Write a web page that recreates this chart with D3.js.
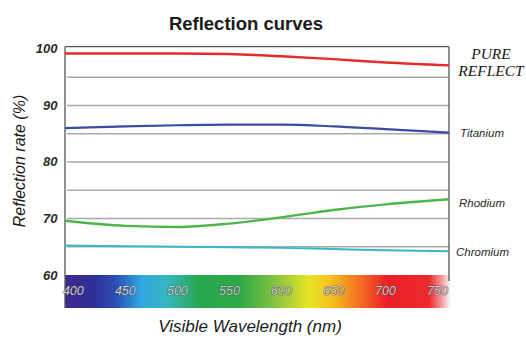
<!DOCTYPE html>
<html>
<head>
<meta charset="utf-8">
<script src="https://cdn.jsdelivr.net/npm/d3@7"></script>
<style>
  html, body { margin: 0; padding: 0; background: #fff; }
  svg { display: block; }
</style>
</head>
<body>
<svg id="chart" width="526" height="340"></svg>
<script>
// ---- data ----
const wavelengths = [392, 450, 500, 550, 600, 650, 700, 761];
const pureReflect = [99.2, 99.2, 99.2, 99.1, 98.7, 98.2, 97.6, 97.1];
const titanium    = [86.0, 86.3, 86.5, 86.6, 86.6, 86.3, 85.8, 85.2];
const rhodium     = [69.6, 68.7, 68.5, 69.1, 70.2, 71.5, 72.5, 73.4];
const chromium    = [65.2, 65.1, 65.0, 64.9, 64.8, 64.6, 64.4, 64.2];
const yTicks = [60, 70, 80, 90, 100];
const gridValues = [65, 70, 75, 80, 85, 90, 95];
const xTicks = [400, 450, 500, 550, 600, 650, 700, 750];
const spectrumWl =     [392, 420, 440, 465, 490, 520, 560, 590, 625, 645, 670, 700, 740, 752, 761];
const spectrumColors = ["#3b2a8c", "#2f2f99", "#2a4db3", "#2fa8e2", "#35b6bf", "#27a84f", "#2ea946", "#7dc142", "#e8e524", "#f6c41c", "#f37a22", "#ec1f27", "#ec2a2d", "#f49a9c", "#ffffff"];

const series = [
  { name: "Pure Reflect", values: pureReflect, color: "#e52a2a", width: 2.4 },
  { name: "Titanium", values: titanium, color: "#3b4aa3", width: 2.2 },
  { name: "Rhodium", values: rhodium, color: "#4cb648", width: 2.4 },
  { name: "Chromium", values: chromium, color: "#35b8cc", width: 2.0 }
];

// ---- layout ----
const svg = d3.select("#chart");
const x = d3.scaleLinear().domain([392, 761]).range([65, 449]);
const y = d3.scaleLinear().domain([60, 100.4]).range([275, 46.7]);
const bandTop = y(60), bandBottom = 308;
const narrow = "Liberation Sans Narrow, Arial Narrow, Liberation Sans, Arial, sans-serif";

// spectrum gradient
const defs = svg.append("defs");
const grad = defs.append("linearGradient").attr("id", "spec")
  .attr("x1", "0%").attr("x2", "100%").attr("y1", "0%").attr("y2", "0%");
spectrumWl.forEach((w, i) => {
  grad.append("stop")
    .attr("offset", ((x(w) - x(392)) / (x(761) - x(392)) * 100) + "%")
    .attr("stop-color", spectrumColors[i]);
});

// title
svg.append("text").attr("x", 246).attr("y", 30)
  .attr("text-anchor", "middle")
  .attr("font-family", "Liberation Sans, Arial, sans-serif")
  .attr("font-weight", "bold").attr("font-size", 18.5)
  .attr("fill", "#1a1a1a").text("Reflection curves");

// gridlines
svg.append("g").selectAll("line").data(gridValues).join("line")
  .attr("x1", x(392) + 2).attr("x2", x(761))
  .attr("y1", d => y(d)).attr("y2", d => y(d))
  .attr("stroke", "#a9a9a9").attr("stroke-width", 1.6);

// spectrum band
svg.append("rect").attr("x", x(392)).attr("y", bandTop)
  .attr("width", x(761) - x(392) + 2).attr("height", bandBottom - bandTop)
  .attr("fill", "url(#spec)");

// frame
svg.append("line").attr("x1", x(392)).attr("x2", x(761))
  .attr("y1", y(100.4)).attr("y2", y(100.4))
  .attr("stroke", "#555").attr("stroke-width", 1.3);
svg.append("line").attr("x1", x(392)).attr("x2", x(392))
  .attr("y1", y(100.4)).attr("y2", bandBottom)
  .attr("stroke", "#555").attr("stroke-width", 1.3);
svg.append("line").attr("x1", x(761)).attr("x2", x(761))
  .attr("y1", y(100.4)).attr("y2", bandTop + 6)
  .attr("stroke", "#555").attr("stroke-width", 1.3);

// series lines
const line = d3.line().x((d, i) => x(wavelengths[i])).y(d => y(d)).curve(d3.curveMonotoneX);
svg.append("g").selectAll("path").data(series).join("path")
  .attr("d", d => line(d.values))
  .attr("fill", "none")
  .attr("stroke", d => d.color)
  .attr("stroke-width", d => d.width);

// y tick labels
svg.append("g").selectAll("text").data(yTicks).join("text")
  .attr("x", 57.5).attr("y", d => y(d) + 4.5)
  .attr("text-anchor", "end")
  .attr("font-family", "Liberation Sans, Arial, sans-serif")
  .attr("font-style", "italic").attr("font-weight", "bold").attr("font-size", 13)
  .attr("fill", "#2a2a2a").text(d => d);

// x tick labels inside band
svg.append("g").selectAll("text").data(xTicks).join("text")
  .attr("x", d => x(d)).attr("y", 294.5)
  .attr("text-anchor", "middle")
  .attr("font-family", narrow)
  .attr("font-style", "italic").attr("font-size", 12.5)
  .attr("fill", "#cfcfd6").attr("stroke", "#333").attr("stroke-width", 0.7)
  .attr("paint-order", "stroke")
  .text(d => d);

// axis titles
svg.append("text").attr("x", 250).attr("y", 332)
  .attr("text-anchor", "middle")
  .attr("font-family", "Liberation Sans, Arial, sans-serif")
  .attr("font-style", "italic").attr("font-size", 17)
  .attr("fill", "#1a1a1a").text("Visible Wavelength (nm)");
svg.append("text")
  .attr("transform", "translate(25,161) rotate(-90)")
  .attr("text-anchor", "middle")
  .attr("font-family", "Liberation Sans, Arial, sans-serif")
  .attr("font-style", "italic").attr("font-size", 16)
  .attr("fill", "#1a1a1a").text("Reflection rate (%)");

// series labels
const pr = svg.append("text")
  .attr("font-family", "Liberation Serif, DejaVu Serif, serif")
  .attr("font-style", "italic").attr("font-size", 15.5)
  .attr("fill", "#1a1a1a").attr("text-anchor", "middle");
pr.append("tspan").attr("x", 491).attr("y", y(pureReflect[pureReflect.length - 1]) - 6).text("PURE");
pr.append("tspan").attr("x", 491).attr("y", y(pureReflect[pureReflect.length - 1]) + 11).text("REFLECT");

svg.append("text").attr("x", 460).attr("y", y(titanium[titanium.length - 1]) + 4)
  .attr("font-family", narrow).attr("font-style", "italic").attr("font-size", 11.5)
  .attr("fill", "#2a2a2a").text("Titanium");
svg.append("text").attr("x", 459).attr("y", y(rhodium[rhodium.length - 1]) + 7.5)
  .attr("font-family", narrow).attr("font-style", "italic").attr("font-size", 11.5)
  .attr("fill", "#2a2a2a").text("Rhodium");
svg.append("text").attr("x", 456).attr("y", y(chromium[chromium.length - 1]) + 4.5)
  .attr("font-family", narrow).attr("font-style", "italic").attr("font-size", 11.5)
  .attr("fill", "#2a2a2a").text("Chromium");
</script>
</body>
</html>
